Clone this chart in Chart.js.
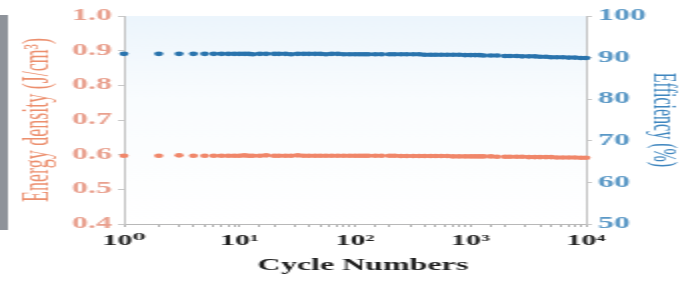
<!DOCTYPE html>
<html>
<head>
<meta charset="utf-8">
<script src="https://cdn.jsdelivr.net/npm/chart.js@4.4.1/dist/chart.umd.min.js"></script>
<style>
  html, body { margin: 0; padding: 0; background: #fff; overflow: hidden; }
  #chart { display: block; transform: scaleX(2); transform-origin: 0 0; }
</style>
</head>
<body>
<canvas id="chart" width="346" height="282"></canvas>
<script>
// cycle numbers (x, log scale)
const cycles = [
  1, 2, 3, 4, 5, 6, 7, 8, 9,
  10, 11, 12, 13, 15, 17, 20, 22, 25, 28, 32, 36, 40, 45, 50, 56, 63, 71, 80, 90,
  100, 110, 120, 130, 150, 170, 200, 220, 250, 280, 320, 360, 400, 450, 500, 560, 630, 710, 800, 900,
  1000, 1100, 1200, 1300, 1500, 1700, 2000, 2200, 2500, 2800, 3200, 3600, 4000, 4500, 5000, 5600, 6300, 7100, 8000, 9000,
  10000
];

// energy density, J/cm3 (left axis)
const energyDensity = [
  0.597, 0.597, 0.598, 0.597, 0.597, 0.597, 0.597, 0.597, 0.597,
  0.597, 0.598, 0.597, 0.597, 0.597, 0.598, 0.597, 0.597, 0.597, 0.597, 0.598, 0.597, 0.597, 0.597, 0.597, 0.597, 0.597, 0.597, 0.597, 0.597,
  0.597, 0.597, 0.597, 0.597, 0.597, 0.597, 0.597, 0.597, 0.596, 0.596, 0.596, 0.596, 0.596, 0.596, 0.596, 0.596, 0.596, 0.595, 0.595, 0.595,
  0.595, 0.595, 0.595, 0.595, 0.595, 0.594, 0.594, 0.594, 0.594, 0.594, 0.593, 0.593, 0.593, 0.593, 0.593, 0.592, 0.592, 0.592, 0.592, 0.591,
  0.591
];

// efficiency, % (right axis)
const efficiency = [
  90.9, 90.9, 90.9, 90.9, 90.9, 90.9, 90.9, 90.9, 90.9,
  90.9, 90.9, 90.9, 90.8, 90.9, 90.9, 90.9, 90.9, 90.9, 90.8, 90.9, 90.9, 90.9, 90.9, 90.9, 90.8, 90.9, 90.9, 90.8, 90.8,
  90.8, 90.8, 90.8, 90.8, 90.8, 90.8, 90.8, 90.8, 90.8, 90.8, 90.8, 90.8, 90.7, 90.7, 90.7, 90.7, 90.7, 90.7, 90.7, 90.6,
  90.6, 90.6, 90.6, 90.5, 90.5, 90.5, 90.4, 90.4, 90.4, 90.3, 90.3, 90.3, 90.2, 90.2, 90.1, 90.1, 90.1, 90.0, 90.0, 89.9,
  89.9
];

const xTickLabels = { 1: '10⁰', 10: '10¹', 100: '10²', 1000: '10³', 10000: '10⁴' };

const orange = '#f0876a';
const blue = '#2a74ad';
const serif = "'Liberation Serif', 'DejaVu Serif', serif";

const backdrop = {
  id: 'backdrop',
  beforeDraw(chart) {
    const { ctx, chartArea: a } = chart;
    ctx.save();
    ctx.fillStyle = '#fff';
    ctx.fillRect(0, 0, chart.width, chart.height);
    const g = ctx.createLinearGradient(0, a.top, 0, a.bottom);
    g.addColorStop(0, '#ecf5fc');
    g.addColorStop(0.4, '#f9fcfe');
    g.addColorStop(1, '#ffffff');
    ctx.fillStyle = g;
    ctx.fillRect(a.left, a.top, a.right - a.left, a.bottom - a.top);
    // grey strip at the left edge
    ctx.fillStyle = '#8e939a';
    ctx.fillRect(0, 15, 4, 215);
    ctx.restore();
  }
};

new Chart(document.getElementById('chart'), {
  type: 'scatter',
  data: {
    datasets: [
      {
        label: 'Energy density',
        data: cycles.map((c, i) => ({ x: c, y: energyDensity[i] })),
        yAxisID: 'y',
        backgroundColor: orange,
        borderWidth: 0,
        pointRadius: 2.3,
        clip: false
      },
      {
        label: 'Efficiency',
        data: cycles.map((c, i) => ({ x: c, y: efficiency[i] })),
        yAxisID: 'y1',
        backgroundColor: blue,
        borderWidth: 0,
        pointRadius: 2.3,
        clip: false
      }
    ]
  },
  options: {
    responsive: false,
    devicePixelRatio: 1,
    animation: false,
    layout: { padding: { top: 16, left: 0, right: 0, bottom: 0 } },
    plugins: { legend: { display: false }, tooltip: { enabled: false } },
    scales: {
      x: {
        type: 'logarithmic',
        position: 'bottom',
        min: 1,
        max: 10000,
        afterFit(s) { s.height = 58; },
        border: { color: '#b8b8b8' },
        grid: { drawOnChartArea: false, tickLength: 3, color: '#b0b0b0' },
        ticks: {
          autoSkip: false,
          maxRotation: 0,
          padding: 5,
          color: '#1e1e1e',
          font: { family: serif, size: 15, weight: 'bold' },
          callback: v => xTickLabels[v] || ''
        },
        title: {
          display: true,
          text: '  Cycle Numbers',
          color: '#1e1e1e',
          font: { family: serif, size: 16, weight: 'bold' },
          padding: { top: 0, bottom: 7 }
        }
      },
      y: {
        position: 'left',
        min: 0.4,
        max: 1.0,
        afterFit(s) { s.width = 62; },
        border: { color: '#c4c4c4' },
        grid: { drawOnChartArea: false, tickLength: 3, color: '#c8c8c8' },
        ticks: {
          stepSize: 0.1,
          padding: 3,
          color: '#e9a08e',
          font: { family: serif, size: 16, weight: 'bold' },
          callback: v => v.toFixed(1)
        },
        title: {
          display: true,
          text: 'Energy density (J/cm³)',
          color: '#ec8f6e',
          font: { family: serif, size: 18 },
          padding: { top: 8, bottom: 0 }
        }
      },
      y1: {
        position: 'right',
        min: 50,
        max: 100,
        afterFit(s) { s.width = 53; },
        border: { color: '#c4c4c4' },
        grid: { drawOnChartArea: false, tickLength: 3, color: '#c8c8c8' },
        ticks: {
          stepSize: 5,
          padding: 3,
          color: '#5a98c6',
          font: { family: serif, size: 16, weight: 'bold' },
          callback: v => (v % 10 === 0 ? v : '')
        },
        title: {
          display: true,
          text: 'Efficiency (%)',
          color: '#3f86bf',
          font: { family: serif, size: 16 },
          padding: { top: 5, bottom: 0 }
        }
      }
    }
  },
  plugins: [backdrop]
});
</script>
</body>
</html>
